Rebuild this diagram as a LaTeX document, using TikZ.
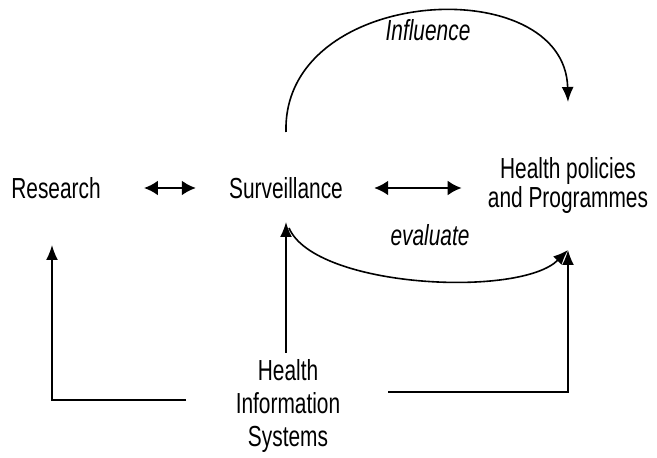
\documentclass[tikz,border=0pt]{standalone}
\usepackage{fontspec}
\setmainfont[FakeStretch=0.72]{Liberation Sans}
\usepackage{tikz}
\usetikzlibrary{positioning,arrows.meta}

\begin{document}
\begin{tikzpicture}[x=1pt, y=1pt,
        txt/.style={font=\fontsize{29}{29}\selectfont, align=center, inner sep=3pt},
        verb/.style={txt, font=\fontsize{29}{29}\selectfont\itshape},
        flow/.style={draw, line width=1.6pt, -{Latex[length=15pt, width=12pt]}},
        link/.style={draw, line width=2.8pt, {Latex[length=14pt, width=15pt]}-{Latex[length=14pt, width=15pt]}}
    ]
        \useasboundingbox (0,0) rectangle (657,458);

        % Nodes
        \node[txt] (research) at (56,270) {Research};
        \node[txt] (surv) at (286,270) {Surveillance};
        \node[txt] (hpp) at (568,272) {Health policies\\and Programmes};
        \node[txt, font=\fontsize{29}{33}\selectfont] (his) at (288,52) {Health\\Information\\Systems};
        \node[verb] (infl) at (428,428) {Influence};
        \node[verb] (eval) at (430,223) {evaluate};

        % Ends of the lines
        \coordinate (s-up) at (286,326);
        \coordinate (p-up) at (568,356);
        \coordinate (s-down) at (286,236);
        \coordinate (e-start) at (289,230);
        \coordinate (p-down) at (568,208);
        \coordinate (r-down) at (52,213);
        \coordinate (his-l) at (186,58);
        \coordinate (his-r) at (388,66);
        \coordinate (his-t) at (286,105);

        % Edges
        \draw[link, shorten <=40pt, shorten >=30pt] (research) -- (surv);
        \draw[link, shorten <=28pt, shorten >=23pt] (surv) -- (hpp.west |- surv);
        \draw[flow] (s-up) .. controls (282,473) and (565,488) .. (p-up);
        \draw[flow] (e-start) .. controls (315,170) and (520,160) .. (p-down);
        \draw[flow] (his-l) -| (r-down);
        \draw[flow] (his-t) -- (s-down);
        \draw[flow] (his-r) -| (p-down);
    \end{tikzpicture}
\end{document}
